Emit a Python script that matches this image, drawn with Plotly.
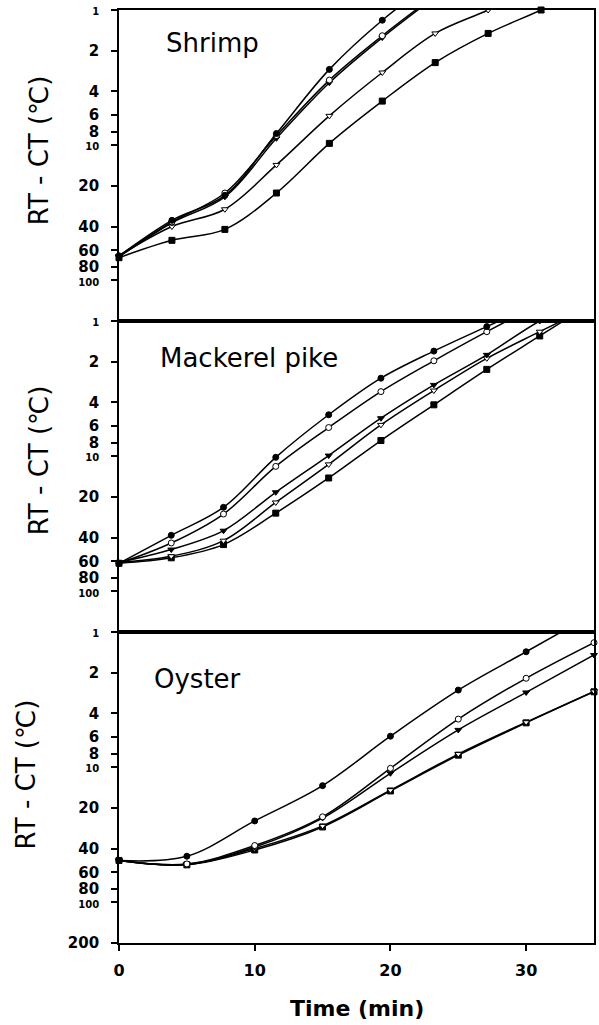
import numpy as np
import plotly.graph_objects as go
from plotly.subplots import make_subplots

# ---------------- data ----------------
panel_names = ["Shrimp", "Mackerel pike", "Oyster"]

shrimp_time = [0, 3.9, 7.8, 11.6, 15.5, 19.4, 23.3, 27.2, 31.1, 35]
shrimp_fc = [66, 36, 23.5, 8.2, 2.75, 1.19, 0.6]
shrimp_oc = [66, 37, 22.6, 8.5, 3.3, 1.55, 0.78]
shrimp_ft = [67, 37.5, 24.1, 8.9, 3.45, 1.6, 0.8]
shrimp_ot = [66, 40, 29.8, 14.0, 6.07, 2.9, 1.49, 1.0, 0.65]
shrimp_fs = [68, 50.6, 42, 22.6, 9.7, 4.72, 2.45, 1.49, 1.0, 0.65]

mackerel_time = [0, 3.85, 7.7, 11.55, 15.45, 19.3, 23.2, 27.1, 31.0, 35]
mackerel_fc = [62, 38.5, 23.9, 10.2, 4.94, 2.65, 1.67, 1.10, 0.73]
mackerel_oc = [62, 43.9, 26.8, 11.9, 6.14, 3.33, 1.97, 1.2, 0.75]
mackerel_ft = [61, 49.1, 35.6, 18.5, 9.9, 5.24, 2.97, 1.78, 1.0, 0.65]
mackerel_ot = [61, 55, 42.2, 22.0, 11.5, 5.87, 3.27, 1.89, 1.2, 0.76]
mackerel_fs = [62, 56.5, 45.1, 26.4, 14.5, 7.66, 4.17, 2.28, 1.29, 0.72]

oyster_time = [0, 5, 10, 15, 20, 25, 30, 35]
oyster_fc = [49, 45.6, 25, 13.7, 5.9, 2.69, 1.4, 0.73]
oyster_oc = [49, 52, 38, 23.3, 10.2, 4.41, 2.2, 1.2]
oyster_ft = [49, 52.3, 39, 23.8, 11.1, 5.3, 2.8, 1.48]
oyster_ot = [49, 52.5, 40, 27.2, 14.8, 8.0, 4.65, 2.75]
oyster_fs = [49, 52.8, 41, 27.7, 15.0, 8.15, 4.7, 2.77]

y_tick_vals = [1, 2, 4, 6, 8, 10, 20, 40, 60, 80, 100]
y_tick_vals_bottom = [1, 2, 4, 6, 8, 10, 20, 40, 60, 80, 100, 200]
x_tick_vals = [0, 10, 20, 30]

y_title = "RT - CT (℃)"
x_title = "Time (min)"

# ---------------- figure ----------------
panels = [
    (shrimp_time, [shrimp_fs, shrimp_ot, shrimp_ft, shrimp_oc, shrimp_fc]),
    (mackerel_time, [mackerel_fs, mackerel_ot, mackerel_ft, mackerel_oc, mackerel_fc]),
    (oyster_time, [oyster_fs, oyster_ot, oyster_ft, oyster_oc, oyster_fc]),
]
# styles for: filled square, open triangle, filled triangle, open circle, filled circle
styles = [
    ("square", "black"),
    ("triangle-down", "white"),
    ("triangle-down", "black"),
    ("circle", "white"),
    ("circle", "black"),
]

fig = make_subplots(rows=3, cols=1, vertical_spacing=0)

for r, (t, series) in enumerate(panels, start=1):
    for vals, (sym, fillc) in zip(series, styles):
        tt = t[:len(vals)]
        fig.add_trace(go.Scatter(
            x=tt, y=vals, mode="lines",
            line=dict(color="black", width=1.5, shape="spline", smoothing=1.0),
            showlegend=False, hoverinfo="skip"), row=r, col=1)
        mx = [a for a, b in zip(tt, vals) if b >= 1]
        my = [b for b in vals if b >= 1]
        fig.add_trace(go.Scatter(
            x=mx, y=my, mode="markers", cliponaxis=False,
            marker=dict(symbol=sym, size=6, color=fillc,
                        line=dict(color="black", width=1)),
            showlegend=False), row=r, col=1)


def tick_label(v):
    if v in (1, 10, 100):
        return '<span style="font-size:10px">%d</span>' % v
    return str(v)


for r in range(1, 4):
    vals = y_tick_vals_bottom if r == 3 else y_tick_vals
    fig.update_yaxes(
        type="log", range=[np.log10(200), 0],
        tickvals=vals, ticktext=[tick_label(v) for v in vals],
        ticks="outside", ticklen=6, tickwidth=1.5, tickcolor="black",
        ticklabelstandoff=9,
        tickfont=dict(family="DejaVu Sans", size=15, color="black", weight="bold"),
        showline=True, linewidth=1.8, linecolor="black", mirror=True,
        showgrid=False, zeroline=False, row=r, col=1)
    fig.update_xaxes(
        range=[0, 35], tickvals=x_tick_vals,
        showticklabels=(r == 3), ticks="outside" if r == 3 else "",
        ticklen=6, tickwidth=1.5, tickcolor="black",
        ticklabelstandoff=6,
        tickfont=dict(family="DejaVu Sans", size=16, color="black", weight="bold"),
        showline=True, linewidth=1.8, linecolor="black", mirror=True,
        showgrid=False, zeroline=False, row=r, col=1)

# panel labels
label_pos = [(6.9, 0.9646), (9.6, 0.6265), (5.76, 0.283)]
for name, (lx, ly) in zip(panel_names, label_pos):
    fig.add_annotation(x=lx, y=ly, xref="x", yref="paper", text=name,
                       showarrow=False, xanchor="center", yanchor="middle",
                       font=dict(family="DejaVu Sans", size=26, color="black"))

# y titles
ytitle_pos = [(-0.1677, 0.85), (-0.1677, 0.5177), (-0.195, 0.1811)]
for (px, py) in ytitle_pos:
    fig.add_annotation(x=px, y=py, xref="paper", yref="paper", text=y_title,
                       textangle=-90, showarrow=False,
                       xanchor="center", yanchor="middle",
                       font=dict(family="DejaVu Sans", size=26, color="black"))

fig.add_annotation(x=0.5, y=-0.0697, xref="paper", yref="paper", text=x_title,
                   showarrow=False, xanchor="center", yanchor="middle",
                   font=dict(family="DejaVu Sans", size=22, color="black", weight="bold"))

fig.update_layout(
    width=599, height=1025,
    margin=dict(l=119, r=3, t=10, b=82),
    paper_bgcolor="white", plot_bgcolor="white",
    showlegend=False,
)

fig.write_html(
    "out.html",
    config={"displayModeBar": False},
    post_script="document.body.style.margin='0';"
                "document.body.style.overflow='hidden';"
                "document.documentElement.style.overflow='hidden';",
)
